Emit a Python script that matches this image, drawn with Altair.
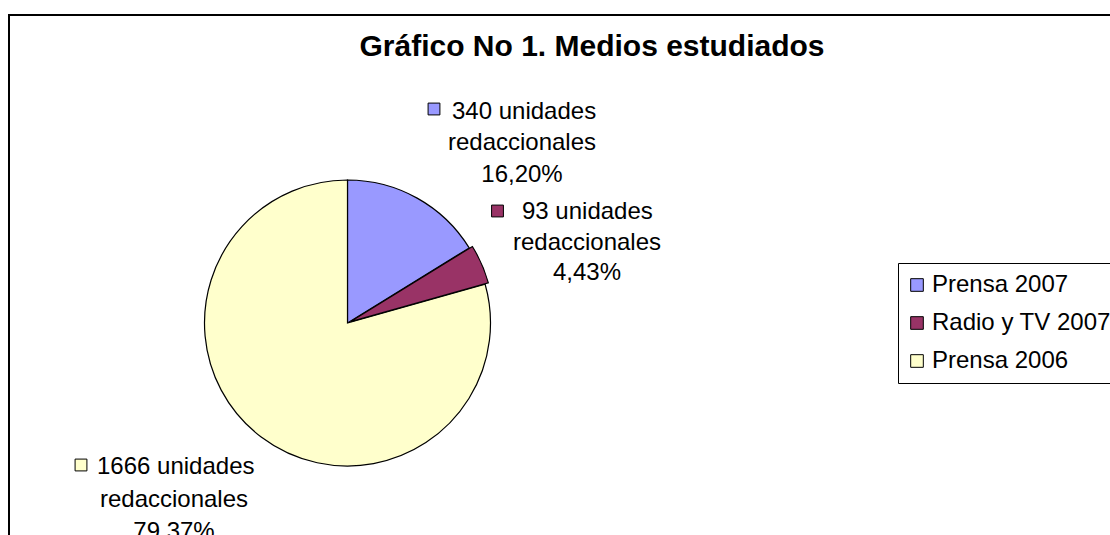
import math
import altair as alt
import pandas as pd

# ---- data ----
medios = ["Prensa 2007", "Radio y TV 2007", "Prensa 2006"]
unidades = [340, 93, 1666]
porcentajes = ["16,20%", "4,43%", "79,37%"]
colores = ["#9999FF", "#993366", "#FFFFCC"]
titulo = "Gráfico No 1. Medios estudiados"

df = pd.DataFrame({"medio": medios, "unidades": unidades,
                   "porcentaje": porcentajes, "orden": list(range(len(medios)))})

W, H = 1110, 535
CX, CY, R = 347.5, 323, 143
FONT = "Liberation Sans"
FS = 24

color_scale = alt.Scale(domain=medios, range=colores)

def angulos(chart):
    return (chart
            .transform_joinaggregate(total="sum(unidades)")
            .transform_window(cum="sum(unidades)", sort=[alt.SortField("orden")],
                              frame=[None, 0])
            .transform_calculate(ini="(datum.cum - datum.unidades) / datum.total * 2 * PI",
                                 fin="datum.cum / datum.total * 2 * PI"))

# frame / background
marco = alt.Chart(pd.DataFrame({"k": [0]})).mark_rect(
    fill="white", stroke="black", strokeWidth=2).encode(
    x=alt.value(9), y=alt.value(15), x2=alt.value(1300), y2=alt.value(800))

titulo_l = alt.Chart(pd.DataFrame({"t": [titulo]})).mark_text(
    font=FONT, fontSize=30, fontWeight="bold", color="black",
    align="center", baseline="middle").encode(
    text="t:N", x=alt.value(592), y=alt.value(47))

leyenda = alt.Legend(orient="none", legendX=898, legendY=263, title=None,
                     symbolType="square", symbolSize=160, symbolStrokeColor="black",
                     symbolStrokeWidth=1, symbolOffset=-3, labelFont=FONT, labelFontSize=FS,
                     labelColor="black", labelOffset=3, labelLimit=0, rowPadding=14,
                     padding=10, strokeColor="black", fillColor="white", cornerRadius=0)

# main pie without the exploded slice
pie = angulos(alt.Chart(df)).transform_filter(
    "datum.medio != 'Radio y TV 2007'").mark_arc(
    outerRadius=R, stroke="black", strokeWidth=1.2).encode(
    theta=alt.Theta("ini:Q", scale=None), theta2="fin:Q",
    color=alt.Color("medio:N", scale=color_scale, legend=leyenda),
    x=alt.value(CX), y=alt.value(CY))

# exploded slice
i_r = 1
mid = (sum(unidades[:i_r]) + unidades[i_r] / 2) / sum(unidades) * 2 * math.pi
OFF = 3.5
radio = angulos(alt.Chart(df)).transform_filter(
    "datum.medio == 'Radio y TV 2007'").mark_arc(
    outerRadius=R, stroke="black", strokeWidth=1.2,
    xOffset=OFF * math.sin(mid), yOffset=-OFF * math.cos(mid)).encode(
    theta=alt.Theta("ini:Q", scale=None), theta2="fin:Q",
    color=alt.Color("medio:N", scale=color_scale, legend=leyenda),
    x=alt.value(CX), y=alt.value(CY))

def etiqueta(i, sq, x1, y1, xc, y2, y3):
    b = alt.Chart(df).transform_filter(alt.datum.medio == medios[i]).transform_calculate(
        l1="datum.unidades + ' unidades'", l2="'redaccionales'")
    cuadro = b.mark_square(size=140, stroke="black", strokeWidth=1, opacity=1).encode(
        fill=alt.Fill("medio:N", scale=color_scale, legend=None),
        x=alt.value(sq[0]), y=alt.value(sq[1]))
    t1 = b.mark_text(font=FONT, fontSize=FS, align="left", baseline="middle",
                     color="black").encode(text="l1:N", x=alt.value(x1), y=alt.value(y1))
    t2 = b.mark_text(font=FONT, fontSize=FS, align="center", baseline="middle",
                     color="black").encode(text="l2:N", x=alt.value(xc), y=alt.value(y2))
    t3 = b.mark_text(font=FONT, fontSize=FS, align="center", baseline="middle",
                     color="black").encode(text="porcentaje:N", x=alt.value(xc), y=alt.value(y3))
    return [cuadro, t1, t2, t3]

capas = [marco, titulo_l, pie, radio]
capas += etiqueta(0, (434, 109), 452, 112, 522, 143, 175)
capas += etiqueta(1, (497.5, 211), 522, 212, 587, 243, 273)
capas += etiqueta(2, (81, 465), 97, 467, 174, 500, 532)

chart = alt.layer(*capas).properties(
    width=W, height=H, padding=0, autosize="none", background="white"
).configure_view(strokeWidth=0)

chart.save("out.html", embed_options={"renderer": "svg", "actions": False})
